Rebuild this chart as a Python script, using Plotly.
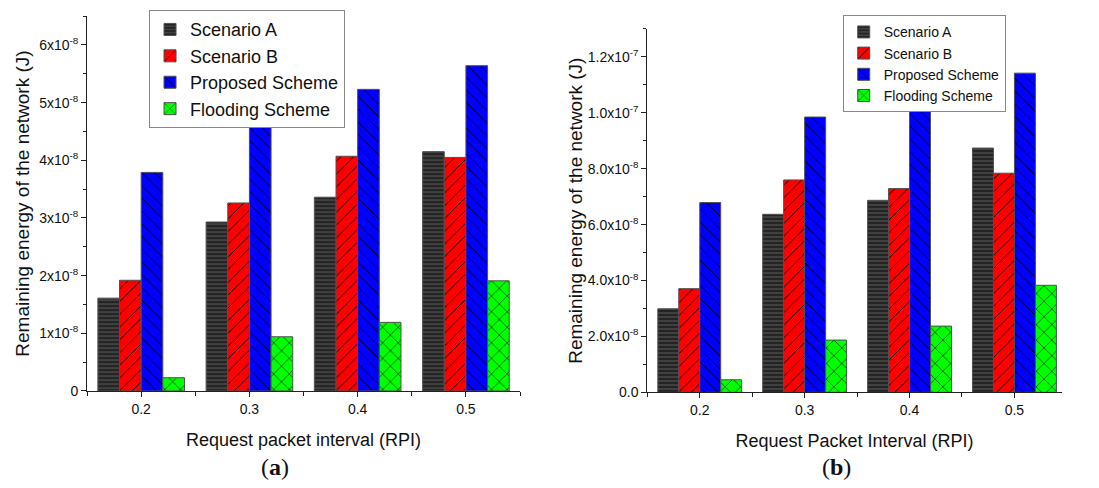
import plotly.graph_objects as go

# ---- data ----
rpi = [0.2, 0.3, 0.4, 0.5]
series_names = ["Scenario A", "Scenario B", "Proposed Scheme", "Flooding Scheme"]

# panel (a)
a_scenario_a = [1.61e-8, 2.93e-8, 3.36e-8, 4.15e-8]
a_scenario_b = [1.92e-8, 3.26e-8, 4.07e-8, 4.05e-8]
a_proposed = [3.79e-8, 4.72e-8, 5.23e-8, 5.64e-8]
a_flooding = [0.23e-8, 0.94e-8, 1.19e-8, 1.91e-8]

# panel (b)
b_scenario_a = [2.99e-8, 6.37e-8, 6.87e-8, 8.74e-8]
b_scenario_b = [3.71e-8, 7.60e-8, 7.29e-8, 7.84e-8]
b_proposed = [6.79e-8, 9.85e-8, 10.44e-8, 11.42e-8]
b_flooding = [0.45e-8, 1.87e-8, 2.37e-8, 3.83e-8]

a_ticks = [0, 1e-8, 2e-8, 3e-8, 4e-8, 5e-8, 6e-8]
a_ticktext = ["0", "1x10<sup>-8</sup>", "2x10<sup>-8</sup>", "3x10<sup>-8</sup>",
              "4x10<sup>-8</sup>", "5x10<sup>-8</sup>", "6x10<sup>-8</sup>"]
b_ticks = [0, 2e-8, 4e-8, 6e-8, 8e-8, 1.0e-7, 1.2e-7]
b_ticktext = ["0.0", "2.0x10<sup>-8</sup>", "4.0x10<sup>-8</sup>", "6.0x10<sup>-8</sup>",
              "8.0x10<sup>-8</sup>", "1.0x10<sup>-7</sup>", "1.2x10<sup>-7</sup>"]
x_ticktext = ["0.2", "0.3", "0.4", "0.5"]

# ---- styles ----
colors = ["#404040", "#ff0000", "#0000ff", "#00ff00"]
shapes = ["-", "/", "\\", "x"]
psizes = [4, 9, 9, 11]
psolid = [0.22, 0.1, 0.1, 0.1]

FONT = "Liberation Sans, Arial, sans-serif"

fig = go.Figure()

def add_panel(values, xa, ya, legend):
    for i, (name, vals) in enumerate(zip(series_names, values)):
        fig.add_trace(go.Bar(
            x=rpi, y=vals, name=name, xaxis=xa, yaxis=ya, legend=legend,
            marker=dict(color=colors[i],
                        line=dict(color="#505050", width=1),
                        pattern=dict(shape=shapes[i], fgcolor="#000000",
                                     bgcolor=colors[i], size=psizes[i],
                                     solidity=psolid[i], fillmode="replace")),
        ))

add_panel([a_scenario_a, a_scenario_b, a_proposed, a_flooding], "x", "y", "legend")
add_panel([b_scenario_a, b_scenario_b, b_proposed, b_flooding], "x2", "y2", "legend2")

axis_common = dict(showline=True, linecolor="#222", linewidth=1, showgrid=False,
                   zeroline=False, ticks="outside", ticklen=5, tickcolor="#222",
                   automargin=False,
                   tickfont=dict(family=FONT, size=14, color="#111"))

xa_common = dict(axis_common, tickmode="array", tickvals=rpi, ticktext=x_ticktext,
                 minor=dict(tickmode="array", tickvals=[0.15, 0.25, 0.35, 0.45, 0.55],
                            ticks="outside", ticklen=4, tickcolor="#222"))

fig.update_layout(
    width=1099, height=488,
    margin=dict(l=0, r=0, t=0, b=0),
    paper_bgcolor="white", plot_bgcolor="white",
    barmode="group", bargap=0.2, bargroupgap=0,
    font=dict(family=FONT, color="#111"),
    xaxis=dict(xa_common, domain=[0.0792, 0.4732], range=[0.15, 0.55], anchor="y",
               title=dict(text="Request packet interval (RPI)",
                          font=dict(family=FONT, size=18, color="#111"), standoff=17)),
    yaxis=dict(axis_common, domain=[0.1988, 0.967], range=[0, 6.5e-8], anchor="x",
               tickmode="array", tickvals=a_ticks, ticktext=a_ticktext,
               minor=dict(dtick=0.5e-8, tick0=0, ticks="outside", ticklen=3, tickcolor="#222"),
               title=dict(text="Remaining energy of the network (J)",
                          font=dict(family=FONT, size=19, color="#111"), standoff=4)),
    xaxis2=dict(xa_common, domain=[0.589, 0.966], range=[0.15, 0.545], anchor="y2",
                title=dict(text="Request Packet Interval (RPI)",
                           font=dict(family=FONT, size=18, color="#111"), standoff=17)),
    yaxis2=dict(axis_common, domain=[0.196, 0.9406], range=[0, 1.3e-7], anchor="x2",
                tickmode="array", tickvals=b_ticks, ticktext=b_ticktext,
                minor=dict(dtick=1e-8, tick0=0, ticks="outside", ticklen=3, tickcolor="#222"),
                title=dict(text="Remaining energy of the network (J)",
                           font=dict(family=FONT, size=19, color="#111"), standoff=0)),
    legend=dict(x=0.1356, y=0.979, xanchor="left", yanchor="top",
                bgcolor="white", bordercolor="#888", borderwidth=1,
                font=dict(family=FONT, size=18, color="#111"), tracegroupgap=0),
    legend2=dict(x=0.7668, y=0.9686, xanchor="left", yanchor="top",
                 bgcolor="white", bordercolor="#888", borderwidth=1,
                 font=dict(family=FONT, size=14, color="#111"), tracegroupgap=0),
    annotations=[
        dict(text="(<b>a</b>)", x=275 / 1099, y=1 - 467 / 488, xref="paper", yref="paper",
             xanchor="center", yanchor="middle", showarrow=False,
             font=dict(family="Liberation Serif, Times New Roman, serif", size=24, color="#111")),
        dict(text="(<b>b</b>)", x=836 / 1099, y=1 - 467 / 488, xref="paper", yref="paper",
             xanchor="center", yanchor="middle", showarrow=False,
             font=dict(family="Liberation Serif, Times New Roman, serif", size=24, color="#111")),
    ],
)

fig.write_html("out.html")
